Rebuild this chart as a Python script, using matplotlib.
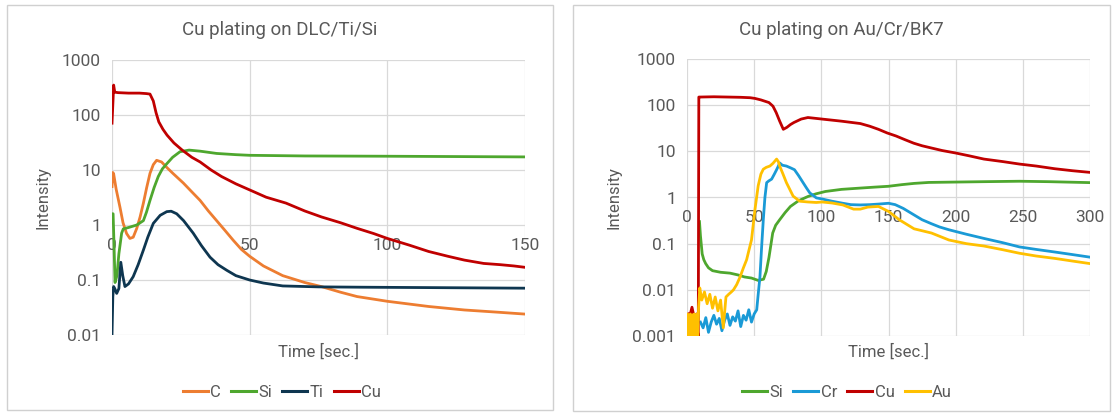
import matplotlib
matplotlib.use("Agg")
import matplotlib.pyplot as plt
from matplotlib.patches import Rectangle
from matplotlib.lines import Line2D

plt.rcParams['font.family'] = ['Roboto', 'DejaVu Sans']

# ---------------- data: left panel (Cu plating on DLC/Ti/Si) ----------------
left_title = "Cu plating on DLC/Ti/Si"
left_series = ["C", "Si", "Ti", "Cu"]

c_x = [0, 0.3, 0.6, 1.5, 2.9, 4, 5.3, 6.5, 7.7, 9, 10.2, 11.4, 12.6, 13.8, 15, 16.2, 18, 20, 22,
       25.9, 29, 32, 35, 38, 41, 44, 47, 50, 55, 62, 70, 76, 83, 89, 100, 115, 128, 140, 150]
c_y = [5, 9, 8.5, 4.5, 2.1, 1.1, 0.7, 0.57, 0.6, 0.87, 1.4, 2.5, 4.8, 8.7, 12.5, 15, 14, 11, 8.8,
       5.8, 4, 2.8, 1.8, 1.2, 0.8, 0.53, 0.36, 0.27, 0.18, 0.12, 0.09, 0.076, 0.06, 0.05, 0.041,
       0.033, 0.0285, 0.026, 0.024]

si_x = [0, 0.4, 0.7, 1.1, 1.8, 2.5, 3.5, 4.1, 6, 9, 11.4, 12.5, 13.8, 15.3, 16.8, 18.3, 19.9, 22,
        24.7, 28, 32, 38, 45, 50, 70, 100, 130, 150]
si_y = [1.6, 1.6, 0.5, 0.09, 0.12, 0.3, 0.71, 0.85, 0.9, 1.0, 1.2, 1.7, 2.8, 4.8, 7.6, 10.5, 13, 17,
        21.5, 23, 22, 20, 19, 18.5, 18, 17.8, 17.5, 17.3]

ti_x = [0, 0.3, 0.6, 1.0, 1.7, 2.5, 3.2, 3.9, 4.7, 6, 7.7, 9.5, 11.4, 13, 15, 17.5, 19.9, 21.5, 23.5,
        26, 29.5, 32.5, 35.6, 38.5, 41.7, 45, 50, 55, 62, 75, 90, 110, 130, 150]
ti_y = [0.01, 0.05, 0.076, 0.07, 0.057, 0.07, 0.21, 0.12, 0.076, 0.085, 0.115, 0.19, 0.35, 0.6, 1.07,
        1.5, 1.75, 1.78, 1.6, 1.2, 0.71, 0.42, 0.26, 0.19, 0.15, 0.12, 0.1, 0.088, 0.078, 0.075,
        0.074, 0.073, 0.072, 0.071]

cu_x = [0, 0.4, 0.6, 1.0, 2.2, 6, 10, 12.5, 13.8, 15, 16, 17, 18.5, 20, 22.5, 25.5, 29, 32, 36, 39.8,
        45, 50.2, 56, 63.2, 70, 76.1, 83, 89, 95, 100, 108, 115, 122, 128, 135, 141, 146, 150]
cu_y = [71, 200, 350, 260, 255, 250, 250, 245, 240, 180, 110, 75, 55, 43, 31, 23, 17, 14, 10, 7.6,
        5.6, 4.3, 3.2, 2.5, 1.8, 1.4, 1.1, 0.87, 0.7, 0.57, 0.43, 0.33, 0.27, 0.23, 0.2, 0.19,
        0.18, 0.17]

left_xticks = [0, 50, 100, 150]
left_yticks = [0.01, 0.1, 1, 10, 100, 1000]
left_ylabels = ["0.01", "0.1", "1", "10", "100", "1000"]

# ---------------- data: right panel (Cu plating on Au/Cr/BK7) ----------------
right_title = "Cu plating on Au/Cr/BK7"
right_series = ["Si", "Cr", "Cu", "Au"]

rsi_x = [9.3, 10, 11.3, 12.5, 13.9, 16, 19, 25, 32, 38, 42.8, 48, 53, 57, 59, 61, 63.8, 66, 69, 73,
         77, 83, 90, 96, 103, 115, 129, 140, 150, 160, 169, 180, 195, 220, 247.5, 270, 300]
rsi_y = [0.3, 0.15, 0.06, 0.045, 0.037, 0.03, 0.026, 0.024, 0.023, 0.021, 0.019, 0.018, 0.016,
         0.017, 0.025, 0.05, 0.17, 0.25, 0.33, 0.47, 0.64, 0.85, 1.05, 1.2, 1.35, 1.5, 1.6, 1.68,
         1.75, 1.9, 2.02, 2.12, 2.15, 2.2, 2.25, 2.2, 2.1]

rcr_x = [10, 12, 14, 16, 18, 20, 22, 24, 26, 28, 30, 32, 34, 36, 38, 40, 42, 44, 46, 48, 50, 51.9,
         53, 54.3, 55.5, 56.8, 58, 59.3, 61, 63, 65, 66.7, 68, 69, 71, 74, 77, 80, 83, 86.4, 89,
         91.4, 96.3, 100.5, 108, 116, 122, 129, 136, 142.5, 150, 155, 161, 169, 175, 182, 188,
         195, 208, 221, 235, 247.5, 260, 273.7, 287, 300]
rcr_y = [0.002, 0.0015, 0.0025, 0.0012, 0.002, 0.0028, 0.0018, 0.0024, 0.0013, 0.0022, 0.003,
         0.0017, 0.0026, 0.0021, 0.0035, 0.0016, 0.0028, 0.0022, 0.0037, 0.002, 0.003, 0.0037,
         0.008, 0.019, 0.08, 0.33, 1.0, 2.1, 2.3, 2.5, 3.2, 4, 4.8, 5.6, 5.0, 4.8, 4.4, 4.0, 3.0,
         2.1, 1.6, 1.26, 0.98, 0.93, 0.83, 0.75, 0.7, 0.69, 0.7, 0.72, 0.75, 0.7, 0.58, 0.42, 0.33,
         0.27, 0.23, 0.2, 0.16, 0.13, 0.105, 0.085, 0.075, 0.066, 0.058, 0.051]

rcu_x = [1, 1.5, 2.5, 3.7, 5, 6.2, 7.2, 7.9, 8.4, 8.8, 10, 20, 30, 40, 47, 50.6, 55, 61, 64, 66.4,
         69, 71.7, 74.3, 77, 79.5, 85, 90, 100.5, 115, 129, 136, 142.5, 149, 155.6, 162, 168.8,
         175, 182, 190, 200, 210, 221, 235, 247.5, 260, 273.7, 287, 300]
rcu_y = [0.003, 0.0028, 0.003, 0.0042, 0.0028, 0.0026, 0.003, 0.0012, 0.001, 150, 150, 152, 150,
         148, 145, 140, 130, 114, 95, 69, 45, 30, 33, 38, 42, 50, 54, 50, 45, 40, 35, 30, 25, 21.5,
         18, 15, 13.2, 11.8, 10.4, 9.2, 8, 6.8, 6, 5.3, 4.8, 4.2, 3.8, 3.5]

rau_x = [0, 0.5, 1, 1.5, 2, 2.5, 3, 3.5, 4, 4.5, 5, 5.5, 6, 6.5, 7, 7.5, 8, 8.6, 9.5, 11, 13, 15,
         17, 19, 21, 23, 25, 27, 29, 31, 33, 34.6, 37, 39.5, 42, 44.4, 46, 48, 50.6, 53, 55, 56.8,
         59, 61.7, 64, 66.7, 68, 69, 71.5, 74, 76.5, 79, 84, 90, 96.3, 100.5, 108, 116, 124, 129,
         134.6, 142.5, 150, 158, 169, 182, 195, 208, 221, 235, 247.5, 260, 273.7, 287, 300]
rau_y = [0.001, 0.003, 0.0012, 0.0028, 0.001, 0.003, 0.0015, 0.0027, 0.001, 0.0029, 0.0013, 0.003,
         0.001, 0.0025, 0.0012, 0.003, 0.001, 0.004, 0.011, 0.006, 0.009, 0.005, 0.008, 0.004,
         0.007, 0.0035, 0.006, 0.0015, 0.007, 0.008, 0.009, 0.01, 0.013, 0.019, 0.03, 0.045, 0.07,
         0.12, 0.55, 1.8, 3.2, 4.1, 4.5, 4.8, 5.5, 6.8, 6.0, 4.8, 3.2, 2.1, 1.5, 1.07, 0.83, 0.8,
         0.78, 0.8, 0.76, 0.69, 0.56, 0.56, 0.62, 0.64, 0.5, 0.33, 0.21, 0.17, 0.12, 0.1, 0.089,
         0.074, 0.062, 0.054, 0.048, 0.042, 0.037]

right_xticks = [0, 50, 100, 150, 200, 250, 300]
right_yticks = [0.001, 0.01, 0.1, 1, 10, 100, 1000]
right_ylabels = ["0.001", "0.01", "0.1", "1", "10", "100", "1000"]

x_label = "Time [sec.]"
y_label = "Intensity"

# ---------------- style ----------------
COL = {"C": "#ED7D31", "Si": "#4EA72E", "Ti": "#0E3650", "Cu": "#C00000",
       "Cr": "#1A9AD6", "Au": "#FFC000"}
TXT = "#595959"
GRID = "#D9D9D9"
LW = 2.0

W, H = 1114, 415
fig = plt.figure(figsize=(W / 100, H / 100), dpi=100)


def fx(px):
    return px / W


def fy(py):
    return 1 - py / H


# panel borders
for (x0, y0, x1, y1) in [(7, 5, 553, 410), (573, 5, 1110, 411)]:
    fig.patches.append(Rectangle((fx(x0), fy(y1)), fx(x1) - fx(x0), fy(y0) - fy(y1),
                                 transform=fig.transFigure, fill=False,
                                 edgecolor="#D0D0D0", linewidth=1.0))


def setup(ax, xmax, yticks, ylabels, xticks, ymin):
    ax.set_yscale("log")
    ax.set_xlim(0, xmax)
    ax.set_ylim(ymin, 1000)
    ax.set_yticks(yticks)
    ax.set_yticklabels(ylabels)
    ax.minorticks_off()
    ax.set_xticks(xticks)
    ax.set_xticklabels([str(t) for t in xticks])
    ax.grid(True, color=GRID, linewidth=0.9)
    ax.set_axisbelow(True)
    for s in ["top", "right", "left"]:
        ax.spines[s].set_visible(False)
    ax.spines["bottom"].set_position(("data", 1))
    ax.spines["bottom"].set_color("none")
    ax.tick_params(axis="both", length=0, colors=TXT, labelsize=12.5)
    ax.tick_params(axis="x", pad=9)
    ax.tick_params(axis="y", pad=8)
    ax.set_ylabel(y_label, color=TXT, fontsize=12, labelpad=8)


# left
axL = fig.add_axes([fx(112), fy(335), fx(525) - fx(112), fy(60) - fy(335)])
setup(axL, 150, left_yticks, left_ylabels, left_xticks, 0.01)
for name, xs, ys in [("C", c_x, c_y), ("Si", si_x, si_y), ("Ti", ti_x, ti_y), ("Cu", cu_x, cu_y)]:
    axL.plot(xs, ys, color=COL[name], lw=LW, label=name, solid_joinstyle="round")

# right
axR = fig.add_axes([fx(687), fy(336), fx(1090) - fx(687), fy(59) - fy(336)])
setup(axR, 300, right_yticks, right_ylabels, right_xticks, 0.001)
for name, xs, ys in [("Si", rsi_x, rsi_y), ("Cr", rcr_x, rcr_y), ("Cu", rcu_x, rcu_y), ("Au", rau_x, rau_y)]:
    axR.plot(xs, ys, color=COL[name], lw=LW, label=name, solid_joinstyle="round")

for ax in (axL, axR):
    for lab in ax.get_yticklabels() + ax.get_xticklabels():
        lab.set_clip_on(False)

# titles, x labels, legends
fig.text(fx(280), fy(30), left_title, ha="center", va="center", color=TXT, fontsize=13.5)
fig.text(fx(841), fy(30), right_title, ha="center", va="center", color=TXT, fontsize=13.5)
fig.text(fx(318), fy(352), x_label, ha="center", va="center", color=TXT, fontsize=12)
fig.text(fx(889), fy(352), x_label, ha="center", va="center", color=TXT, fontsize=12)

for ax, names, cx in [(axL, left_series, 282), (axR, right_series, 847)]:
    handles = [Line2D([], [], color=COL[n], lw=2.2) for n in names]
    fig.legend(handles, names, loc="center", bbox_to_anchor=(fx(cx), fy(392)), ncol=4,
               frameon=False, fontsize=12, handlelength=1.5, handletextpad=0.15,
               columnspacing=0.6, labelcolor=TXT)

fig.savefig("out.png", dpi=100)
